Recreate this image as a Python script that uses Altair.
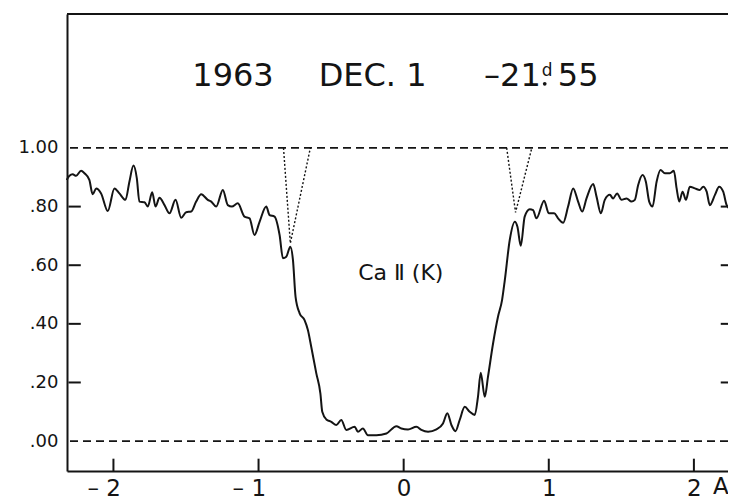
import altair as alt
import pandas as pd

# Ca II K line profile: wavelength offset (A) and relative intensity
wavelength = [-2.322, -2.303, -2.281, -2.257, -2.223, -2.200, -2.166, -2.143, -2.119, -2.085,
              -2.039, -1.993, -1.959, -1.917, -1.890, -1.862, -1.839, -1.821, -1.786, -1.763,
              -1.733, -1.710, -1.683, -1.648, -1.614, -1.572, -1.533, -1.499, -1.464, -1.430,
              -1.395, -1.350, -1.326, -1.292, -1.246, -1.212, -1.184, -1.143, -1.097, -1.062,
              -1.028, -0.993, -0.947, -0.924, -0.890, -0.855, -0.832, -0.809, -0.781, -0.763,
              -0.745, -0.717, -0.683, -0.660, -0.637, -0.602, -0.574, -0.561, -0.533, -0.499,
              -0.464, -0.430, -0.395, -0.338, -0.315, -0.281, -0.246, -0.188, -0.119, -0.050,
              -0.016, 0.030, 0.088, 0.122, 0.168, 0.226, 0.271, 0.301, 0.329, 0.357,
              0.386, 0.421, 0.455, 0.490, 0.512, 0.531, 0.559, 0.581, 0.616, 0.650,
              0.678, 0.697, 0.731, 0.766, 0.784, 0.807, 0.834, 0.869, 0.892, 0.915,
              0.968, 1.000, 1.037, 1.064, 1.099, 1.133, 1.168, 1.202, 1.230, 1.260,
              1.306, 1.329, 1.359, 1.386, 1.421, 1.443, 1.471, 1.501, 1.536, 1.570,
              1.593, 1.616, 1.646, 1.669, 1.692, 1.715, 1.743, 1.770, 1.800, 1.834,
              1.862, 1.881, 1.899, 1.922, 1.945, 1.972, 2.007, 2.041, 2.064, 2.088,
              2.110, 2.145, 2.174, 2.202, 2.226, 2.253, 2.276, 2.290]
intensity = [0.891, 0.905, 0.910, 0.905, 0.922, 0.914, 0.891, 0.842, 0.862, 0.845,
             0.785, 0.862, 0.845, 0.823, 0.885, 0.940, 0.897, 0.817, 0.815, 0.800,
             0.849, 0.800, 0.830, 0.805, 0.777, 0.823, 0.762, 0.781, 0.783, 0.817,
             0.842, 0.823, 0.817, 0.800, 0.857, 0.805, 0.800, 0.811, 0.766, 0.760,
             0.703, 0.748, 0.800, 0.771, 0.766, 0.703, 0.624, 0.629, 0.663, 0.618,
             0.492, 0.436, 0.413, 0.379, 0.322, 0.231, 0.163, 0.100, 0.074, 0.066,
             0.055, 0.072, 0.038, 0.049, 0.032, 0.043, 0.020, 0.020, 0.026, 0.051,
             0.043, 0.040, 0.049, 0.038, 0.032, 0.040, 0.060, 0.095, 0.055, 0.034,
             0.072, 0.117, 0.100, 0.089, 0.151, 0.233, 0.151, 0.219, 0.333, 0.424,
             0.481, 0.549, 0.686, 0.748, 0.731, 0.666, 0.766, 0.791, 0.788, 0.760,
             0.820, 0.777, 0.777, 0.760, 0.745, 0.800, 0.862, 0.817, 0.783, 0.828,
             0.877, 0.834, 0.777, 0.823, 0.840, 0.828, 0.845, 0.823, 0.828, 0.817,
             0.823, 0.874, 0.908, 0.885, 0.817, 0.800, 0.885, 0.925, 0.914, 0.914,
             0.922, 0.862, 0.817, 0.851, 0.823, 0.868, 0.862, 0.857, 0.868, 0.851,
             0.805, 0.840, 0.868, 0.851, 0.805, 0.792, 0.862, 0.891]

x_tick_values = [-2, -1, 0, 1, 2]
y_tick_values = [0.0, 0.2, 0.4, 0.6, 0.8, 1.0]
inner_tick_values = [0.2, 0.4, 0.6, 0.8]
continuum_levels = [0.0, 1.0]

# dotted construction lines (V shapes at the K1 minima)
guide_group = ["left", "left", "left", "right", "right", "right"]
guide_x = [-0.828, -0.781, -0.643, 0.710, 0.771, 0.883]
guide_y = [1.0, 0.675, 1.0, 1.0, 0.78, 1.0]
guide_order = [0, 1, 2, 0, 1, 2]

X_DOMAIN = [-2.32, 2.235]
Y_DOMAIN = [-0.102, 1.457]
FONT = "DejaVu Sans"
INK = "#141414"

xs = alt.Scale(domain=X_DOMAIN, nice=False, zero=False)
ys = alt.Scale(domain=Y_DOMAIN, nice=False, zero=False)

x_axis = alt.Axis(
    values=x_tick_values, title=None, grid=False, ticks=False, tickSize=0,
    labelExpr="datum.value < 0 ? '\u2013 ' + abs(datum.value) : datum.label",
    labelAlign={"condition": {"test": "datum.value < 0", "value": "right"}, "value": "center"},
    labelOffset={"condition": {"test": "datum.value < 0", "value": 7}, "value": 0},
    labelPadding=6, labelFontSize=23, labelFont=FONT, labelColor=INK,
    domainColor=INK, domainWidth=2,
)
y_axis = alt.Axis(
    values=y_tick_values, title=None, grid=False, ticks=False, tickSize=0,
    labelExpr="datum.value >= 1 ? '1.00' : '.' + format(datum.value * 100, '02d')",
    labelPadding=9, labelFontSize=18, labelFont=FONT, labelColor=INK,
    domainColor=INK, domainWidth=2,
)


def X(field="x:Q"):
    return alt.X(field, scale=xs, axis=x_axis)


def Y(field="y:Q"):
    return alt.Y(field, scale=ys, axis=y_axis)


profile = alt.Chart(pd.DataFrame({"x": wavelength, "y": intensity})).mark_line(
    color=INK, strokeWidth=2, interpolate="monotone"
).encode(x=X(), y=Y())

dashed = alt.Chart(pd.DataFrame({"y": continuum_levels})).mark_rule(
    color=INK, strokeWidth=1.8, strokeDash=[8, 5]
).encode(y=Y())

top_spine = alt.Chart(pd.DataFrame({"y": [Y_DOMAIN[1]]})).mark_rule(
    color=INK, strokeWidth=2
).encode(y=Y())

# inward tick stubs on the frame, each a two-point segment
stub_x, stub_y, stub_id = [], [], []
for i, v in enumerate(inner_tick_values):
    stub_x += [-2.31, -2.225]
    stub_y += [v, v]
    stub_id += [f"L{i}", f"L{i}"]
    stub_x += [2.185, X_DOMAIN[1]]
    stub_y += [v, v]
    stub_id += [f"R{i}", f"R{i}"]
for i, v in enumerate(x_tick_values):
    stub_x += [v, v]
    stub_y += [Y_DOMAIN[0], -0.06]
    stub_id += [f"B{i}", f"B{i}"]

stubs = alt.Chart(pd.DataFrame({"x": stub_x, "y": stub_y, "g": stub_id})).mark_line(
    color=INK, strokeWidth=2
).encode(x=X(), y=Y(), detail="g:N")

guides = alt.Chart(pd.DataFrame({
    "x": guide_x, "y": guide_y, "g": guide_group, "o": guide_order})).mark_line(
    color=INK, strokeWidth=1.4, strokeDash=[2, 2]
).encode(x=X(), y=Y(), detail="g:N", order="o:Q")

# the decimal point under the superscript "d"
title_dot = alt.Chart(pd.DataFrame({"x": [0.972], "y": [1.219]})).mark_circle(
    color=INK, opacity=1, size=14).encode(x=X(), y=Y())


def label(text, x, y, size, align="center"):
    return alt.Chart(pd.DataFrame({"x": [x], "y": [y], "t": [text]})).mark_text(
        font=FONT, fontSize=size, color=INK, align=align, baseline="alphabetic"
    ).encode(x=X(), y=Y(), text="t:N")


texts = [
    label("1963", -1.176, 1.212, 32),
    label("DEC. 1", -0.214, 1.212, 32),
    label("\u201321", 0.945, 1.212, 32, "right"),
    label("d", 0.952, 1.247, 17, "left"),
    label("55", 1.062, 1.212, 32, "left"),
    label("Ca \u2161 (K)", -0.02, 0.549, 22),
    label("A", 2.186, -0.181, 23),
]

chart = alt.layer(
    dashed, guides, profile, top_spine, stubs, title_dot, *texts
).properties(
    width=661, height=457,
    autosize=alt.AutoSizeParams(type="none"),
    padding={"left": 59, "top": 6, "right": 0, "bottom": 30},
    background="white",
).configure_view(stroke=None)

chart.save("out.html", embed_options={"renderer": "svg", "actions": False})
